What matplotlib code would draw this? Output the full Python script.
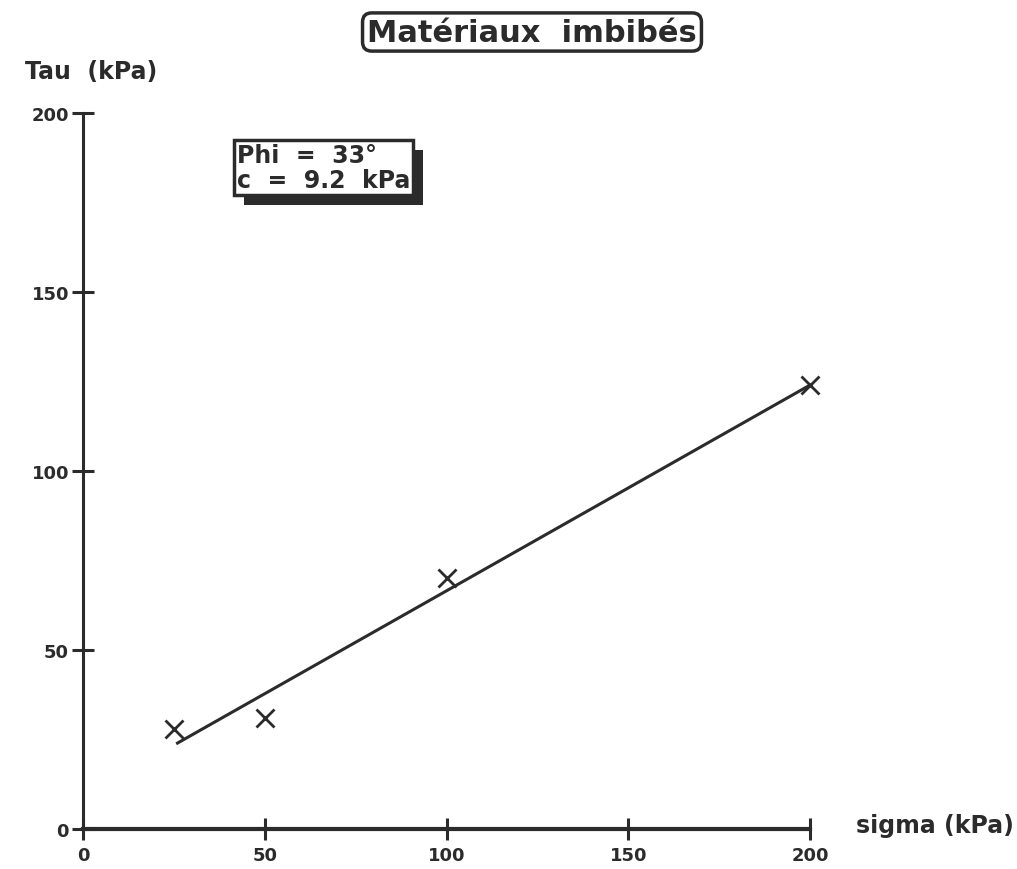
import matplotlib
matplotlib.use("Agg")
import matplotlib.pyplot as plt
from matplotlib.patches import Rectangle

sigma = [25, 50, 100, 200]
tau = [28, 31, 70, 124]
fit_sigma = [26, 200]
fit_tau = [24, 124]
ticks = [0, 50, 100, 150, 200]

ink = '#2b2b2b'
plt.rcParams['font.family'] = 'DejaVu Sans'
plt.rcParams['font.weight'] = 'bold'

fig = plt.figure(figsize=(10.17, 8.7), dpi=100)
ax = fig.add_axes([83 / 1017, 1 - 830 / 870, 727 / 1017, 716 / 870])
ax.set_xlim(0, 200)
ax.set_ylim(0, 200)

ax.plot(fit_sigma, fit_tau, color=ink, lw=2.2)
ax.plot(sigma, tau, ls='none', marker='x', ms=13, mew=2, color=ink, clip_on=False)

for s in ['top', 'right']:
    ax.spines[s].set_visible(False)
ax.spines['left'].set_linewidth(2.2)
ax.spines['bottom'].set_linewidth(3)
for s in ['left', 'bottom']:
    ax.spines[s].set_color(ink)
    ax.spines[s].set_zorder(0)

ax.set_xticks(ticks)
ax.set_yticks(ticks)
ax.set_xticklabels([str(t) for t in ticks], fontsize=13, fontweight='bold', color=ink)
ax.set_yticklabels([str(t) for t in ticks], fontsize=13, fontweight='bold', color=ink)
ax.tick_params(axis='both', direction='inout', length=16, width=2.2, color=ink)
ax.tick_params(axis='x', pad=4)
ax.tick_params(axis='y', pad=2)

# axis titles
fig.text(25 / 1017, 1 - 72 / 870, 'Tau  (kPa)', fontsize=17, fontweight='bold',
         color=ink, ha='left', va='center')
fig.text(856 / 1017, 1 - 826 / 870, 'sigma (kPa)', fontsize=17, fontweight='bold',
         color=ink, ha='left', va='center')

# title in rounded box
fig.text(532 / 1017, 1 - 33 / 870, 'Matériaux  imbibés', fontsize=22, fontweight='bold',
         color=ink, ha='center', va='center',
         bbox=dict(boxstyle='round,pad=0.15,rounding_size=0.3', fc='white', ec=ink, lw=2.5))

# parameter box, then a drop shadow behind it
label = 'Phi  =  33°\nc  =  9.2  kPa'
box = fig.text(237 / 1017, 1 - 144 / 870, label, fontsize=17, fontweight='bold', color=ink,
               ha='left', va='top', linespacing=1.05, zorder=5,
               bbox=dict(boxstyle='square,pad=0.12', fc='white', ec=ink, lw=2.5))
fig.canvas.draw()
bb = box.get_bbox_patch().get_window_extent()
W, H = fig.bbox.width, fig.bbox.height
fig.patches.append(Rectangle(((bb.x0 + 10) / W, (bb.y0 - 10) / H), bb.width / W, bb.height / H,
                             transform=fig.transFigure, fc=ink, ec='none', zorder=4))

fig.savefig('out.png', dpi=100)
